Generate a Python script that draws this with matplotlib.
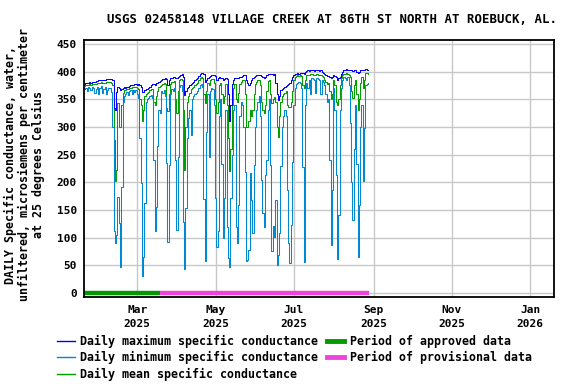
import datetime as dt

import matplotlib
matplotlib.use("Agg")
import matplotlib.dates as mdates
import matplotlib.pyplot as plt
from matplotlib.lines import Line2D

TITLE = "USGS 02458148 VILLAGE CREEK AT 86TH ST NORTH AT ROEBUCK, AL."
YLABEL = "DAILY Specific conductance, water,\nunfiltered, microsiemens per centimeter\nat 25 degrees Celsius"

start_date = dt.date(2025, 1, 19)

# daily values, Jan 19 .. Aug 28 2025
daily_max = [
    378, 379, 379, 380, 381, 380, 381, 382, 382, 383,
    383, 384, 384, 385, 385, 384, 385, 386, 386, 386,
    386, 386, 385, 334, 331, 364, 372, 370, 366, 369,
    370, 372, 371, 373, 372, 374, 375, 376, 376, 377,
    377, 376, 377, 375, 372, 364, 364, 366, 368, 369,
    371, 373, 375, 377, 378, 376, 379, 380, 382, 383,
    384, 386, 387, 388, 386, 375, 385, 388, 389, 390,
    390, 389, 388, 390, 392, 394, 395, 390, 358, 365,
    370, 372, 375, 378, 380, 382, 384, 386, 388, 392,
    396, 398, 398, 396, 382, 385, 389, 390, 392, 393,
    394, 394, 392, 385, 388, 390, 389, 388, 385, 387,
    388, 386, 360, 310, 340, 378, 385, 388, 389, 388,
    388, 390, 391, 392, 394, 393, 385, 380, 376, 380,
    385, 388, 390, 392, 393, 394, 394, 393, 392, 390,
    388, 391, 393, 395, 395, 396, 395, 394, 396, 380,
    360, 349, 355, 367, 368, 370, 372, 374, 376, 378,
    380, 385, 390, 394, 396, 396, 397, 396, 397, 398,
    398, 396, 400, 401, 402, 401, 402, 403, 402, 401,
    402, 403, 402, 401, 402, 400, 398, 395, 393, 392,
    392, 391, 388, 390, 393, 392, 390, 385, 388, 391,
    396, 400, 402, 403, 404, 403, 402, 403, 402, 401,
    403, 402, 400, 398, 400, 402, 403, 402, 403, 404,
    403, 402,
]
daily_mean = [
    374, 375, 375, 376, 377, 376, 377, 378, 378, 378,
    379, 380, 380, 381, 380, 379, 380, 381, 381, 381,
    381, 380, 376, 276, 203, 222, 343, 300, 300, 340,
    362, 366, 367, 369, 368, 370, 371, 372, 372, 373,
    373, 371, 368, 350, 340, 310, 330, 355, 360, 362,
    364, 366, 368, 368, 345, 340, 355, 365, 372, 374,
    376, 378, 379, 378, 335, 328, 360, 378, 381, 382,
    383, 350, 325, 365, 385, 387, 385, 330, 222, 300,
    345, 355, 362, 368, 370, 373, 375, 378, 380, 384,
    388, 390, 389, 360, 343, 365, 380, 375, 384, 386,
    386, 380, 350, 325, 345, 375, 380, 360, 343, 355,
    378, 340, 280, 221, 260, 340, 370, 378, 350, 345,
    362, 378, 382, 384, 385, 360, 300, 300, 310, 330,
    320, 330, 360, 378, 382, 384, 385, 375, 345, 330,
    325, 340, 365, 383, 385, 360, 343, 350, 354, 345,
    300, 282, 320, 345, 355, 360, 362, 365, 340, 336,
    336, 345, 365, 385, 390, 392, 393, 392, 393, 392,
    375, 370, 385, 393, 394, 393, 395, 395, 394, 393,
    394, 395, 394, 393, 394, 392, 390, 385, 382, 378,
    380, 365, 350, 360, 385, 375, 345, 340, 350, 375,
    388, 393, 395, 396, 397, 396, 393, 390, 365, 352,
    375, 385, 360, 331, 350, 380, 390, 370, 385, 398,
    397, 396,
]
daily_min = [
    368, 370, 365, 372, 371, 366, 373, 370, 361, 369,
    372, 360, 370, 374, 362, 368, 373, 359, 366, 371,
    370, 363, 300, 113, 90, 105, 174, 126, 47, 192,
    345, 355, 360, 363, 358, 365, 366, 360, 367, 364,
    366, 360, 352, 280, 199, 31, 65, 163, 345, 350,
    352, 355, 358, 352, 240, 113, 156, 265, 330, 325,
    365, 362, 366, 355, 235, 93, 231, 360, 368, 365,
    370, 240, 114, 246, 372, 375, 365, 129, 43, 153,
    280, 316, 330, 285, 350, 355, 360, 362, 365, 370,
    375, 378, 372, 170, 58, 290, 360, 245, 365, 370,
    368, 340, 171, 84, 113, 320, 350, 234, 99, 172,
    330, 119, 63, 47, 172, 250, 330, 340, 120, 90,
    159, 320, 345, 340, 300, 219, 58, 59, 78, 217,
    168, 109, 231, 300, 330, 345, 355, 320, 204, 144,
    119, 213, 241, 330, 350, 231, 76, 122, 101, 168,
    51, 69, 109, 229, 300, 320, 330, 320, 186, 90,
    55, 123, 237, 340, 370, 378, 380, 382, 380, 370,
    227, 57, 340, 380, 370, 385, 360, 388, 387, 385,
    362, 388, 386, 384, 360, 385, 382, 375, 360, 345,
    350, 240, 87, 187, 370, 330, 214, 61, 141, 330,
    370, 385, 390, 388, 385, 390, 375, 307, 200, 132,
    260, 340, 233, 66, 159, 300, 340, 203, 298, 375,
    378, 380,
]

approved_period = (dt.datetime(2025, 1, 18, 12), dt.datetime(2025, 3, 19))
provisional_period = (dt.datetime(2025, 3, 19), dt.datetime(2025, 8, 28, 12))

yticks = list(range(0, 451, 50))
xtick_dates = [dt.date(2025, 3, 1), dt.date(2025, 5, 1), dt.date(2025, 7, 1),
               dt.date(2025, 9, 1), dt.date(2025, 11, 1), dt.date(2026, 1, 1)]

c_max = "#0000FF"
c_min = "#0088D0"
c_mean = "#00A000"
c_appr = "#009900"
c_prov = "#EE44DD"

plt.rcParams["font.family"] = "DejaVu Sans Mono"
plt.rcParams["font.weight"] = "bold"

dates = [start_date + dt.timedelta(days=i) for i in range(len(daily_max))]

fig = plt.figure(figsize=(5.76, 3.84), dpi=100)
ax = fig.add_axes([84 / 576, 1 - 297 / 384, 470 / 576, 257 / 384])

ax.plot(dates, daily_mean, color=c_mean, lw=0.75, drawstyle="steps-mid")
ax.plot(dates, daily_min, color=c_min, lw=0.75, drawstyle="steps-mid")
ax.plot(dates, daily_max, color=c_max, lw=0.75, drawstyle="steps-mid")

ax.plot(approved_period, [0, 0], color=c_appr, lw=3.2, solid_capstyle="butt")
ax.plot(provisional_period, [0, 0], color=c_prov, lw=3.2, solid_capstyle="butt")

ax.set_xlim(dt.datetime(2025, 1, 18, 12), dt.datetime(2026, 1, 19, 12))
ax.set_ylim(-7, 457)
ax.set_yticks(yticks)
ax.set_xticks(xtick_dates)
ax.xaxis.set_major_formatter(mdates.DateFormatter("%b\n%Y"))
ax.tick_params(axis="both", length=0, labelsize=8, pad=5)
ax.tick_params(axis="x", pad=6)
for lbl in ax.get_xticklabels():
    lbl.set_linespacing(1.4)
ax.grid(color="#C8C8C8", lw=1)
ax.set_axisbelow(True)
for s in ax.spines.values():
    s.set_linewidth(1.3)

ax.set_title(TITLE, fontsize=8.9, fontweight="bold", pad=12, x=0.528)
ax.set_ylabel(YLABEL, fontsize=8.4, fontweight="bold", linespacing=1.1)
ax.yaxis.set_label_coords(-0.083, 0.515)

handles = [
    Line2D([], [], color=c_max, lw=1),
    Line2D([], [], color=c_min, lw=1),
    Line2D([], [], color=c_mean, lw=1),
    Line2D([], [], color=c_appr, lw=3.5),
    Line2D([], [], color=c_prov, lw=3.5),
]
labels = [
    "Daily maximum specific conductance",
    "Daily minimum specific conductance",
    "Daily mean specific conductance",
    "Period of approved data",
    "Period of provisional data",
]
fig.legend(handles, labels, ncol=2, loc="upper left", bbox_to_anchor=(57 / 576, 1 - 334.5 / 384),
           frameon=False, fontsize=8.4, handlelength=1.5, handletextpad=0.5,
           columnspacing=0.7, labelspacing=0.32, borderpad=0, borderaxespad=0)

fig.savefig("out.png", dpi=100)
